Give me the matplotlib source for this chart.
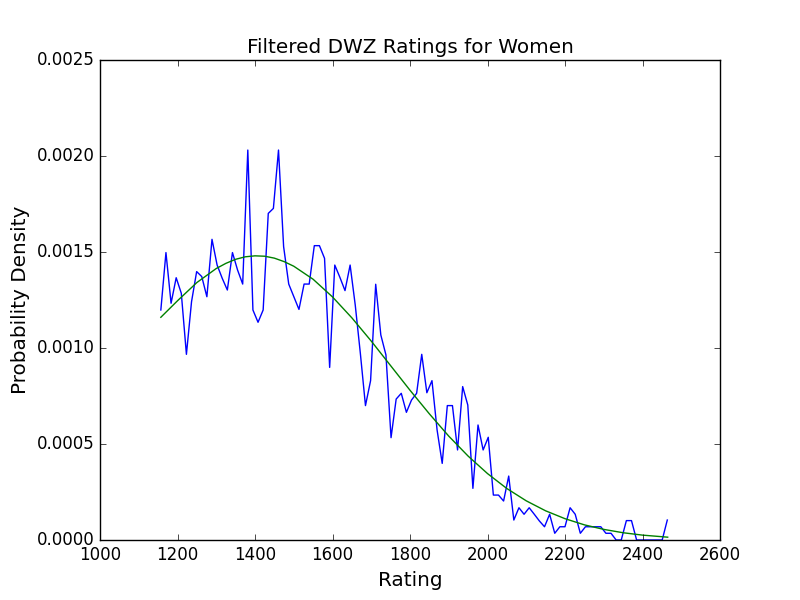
import matplotlib
matplotlib.use("Agg")
import matplotlib.pyplot as plt
import numpy as np

# histogram of ratings: 100 bins, plotted at bin centres
RATING_FIRST = 1157
RATING_LAST = 2464
density = [
    0.001198, 0.001497, 0.001233, 0.001366, 0.001285, 0.000967, 0.001241, 0.001398, 0.001372, 0.001267,
    0.001566, 0.001432, 0.001363, 0.001302, 0.001497, 0.001406, 0.001333, 0.002031, 0.001198, 0.001134,
    0.001198, 0.001701, 0.001727, 0.002031, 0.001528, 0.001333, 0.001267, 0.001201, 0.001333, 0.001333,
    0.001533, 0.001533, 0.001467, 0.000899, 0.001432, 0.001368, 0.001299, 0.001432, 0.001224, 0.000972,
    0.000700, 0.000830, 0.001332, 0.001068, 0.000964, 0.000533, 0.000734, 0.000764, 0.000665, 0.000729,
    0.000764, 0.000967, 0.000767, 0.000830, 0.000573, 0.000399, 0.000700, 0.000700, 0.000469, 0.000799,
    0.000703, 0.000269, 0.000599, 0.000469, 0.000535, 0.000234, 0.000234, 0.000203, 0.000333, 0.000104,
    0.000168, 0.000134, 0.000168, 0.000134, 0.000099, 0.000069, 0.000134, 0.000035, 0.000069, 0.000069,
    0.000168, 0.000134, 0.000035, 0.000069, 0.000069, 0.000069, 0.000069, 0.000035, 0.000035, 0.0,
    0.0, 0.000101, 0.000101, 0.0, 0.0, 0.0, 0.0, 0.0, 0.0, 0.000104,
]

# fitted curve
fit_x = [1157, 1200, 1250, 1300, 1325, 1350, 1375, 1400, 1425, 1450, 1475, 1500, 1550, 1600, 1650,
         1700, 1750, 1800, 1850, 1900, 1950, 2000, 2050, 2100, 2150, 2200, 2250, 2300, 2350, 2400, 2465]
fit_y = [0.001160, 0.001246, 0.001341, 0.001414, 0.001441, 0.001462, 0.001475, 0.001480, 0.001478,
         0.001468, 0.001450, 0.001426, 0.001358, 0.001266, 0.001157, 0.001036, 0.000908, 0.000780,
         0.000657, 0.000541, 0.000437, 0.000346, 0.000268, 0.000204, 0.000152, 0.000111, 0.0000789,
         0.0000553, 0.0000378, 0.0000254, 0.0000147]

plt.style.use("classic")
plt.rcParams["figure.facecolor"] = "white"
plt.rcParams["savefig.facecolor"] = "white"

rating = np.linspace(RATING_FIRST, RATING_LAST, len(density))

fig = plt.figure(figsize=(8, 6), dpi=100)
ax = fig.add_subplot(111)
ax.plot(rating, density, color="b", linewidth=1.0)
ax.plot(fit_x, fit_y, color="g", linewidth=1.0)
ax.set_xlim(1000, 2600)
ax.set_ylim(0, 0.0025)
ax.set_yticks([0, 0.0005, 0.0010, 0.0015, 0.0020, 0.0025])
ax.set_yticklabels(["0.0000", "0.0005", "0.0010", "0.0015", "0.0020", "0.0025"])
ax.set_title("Filtered DWZ Ratings for Women")
ax.set_xlabel("Rating", fontsize="large")
ax.set_ylabel("Probability Density", fontsize="large")
fig.savefig("out.png", dpi=100)
